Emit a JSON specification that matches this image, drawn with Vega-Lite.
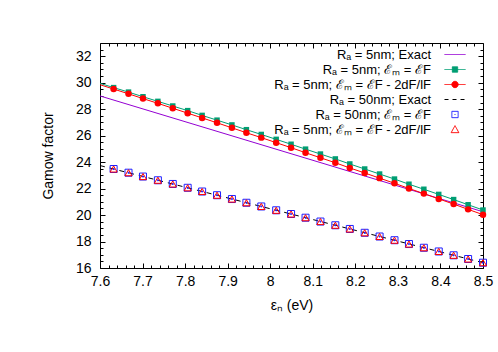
{
  "$schema": "https://vega.github.io/schema/vega-lite/v6.json",
  "width": 383,
  "height": 225,
  "autosize": {"type": "none"},
  "padding": {"left": 100, "top": 43, "right": 15, "bottom": 84},
  "background": "#ffffff",
  "config": {
    "view": {"stroke": "#000000", "strokeWidth": 1},
    "font": "Liberation Sans",
    "axis": {
      "domain": false, "grid": false, "tickColor": "#000000", "tickWidth": 1,
      "labelColor": "#000000", "titleColor": "#000000",
      "labelFont": "Liberation Sans", "titleFont": "Liberation Sans",
      "labelFontSize": 14, "titleFontSize": 14, "titleFontWeight": "normal"
    }
  },
  "datasets": {
    "curves": [
      {"x": 7.6, "y": 29.0, "s": "a"}, {"x": 8.5, "y": 20.25, "s": "a"},
      {"x": 7.6, "y": 29.95, "s": "b"},
      {"x": 7.632, "y": 29.63, "s": "b"}, {"x": 7.667, "y": 29.29, "s": "b"}, {"x": 7.701, "y": 28.94, "s": "b"}, {"x": 7.736, "y": 28.59, "s": "b"},
      {"x": 7.771, "y": 28.24, "s": "b"}, {"x": 7.806, "y": 27.89, "s": "b"}, {"x": 7.840, "y": 27.53, "s": "b"}, {"x": 7.875, "y": 27.17, "s": "b"},
      {"x": 7.910, "y": 26.81, "s": "b"}, {"x": 7.944, "y": 26.45, "s": "b"}, {"x": 7.979, "y": 26.09, "s": "b"}, {"x": 8.014, "y": 25.72, "s": "b"},
      {"x": 8.049, "y": 25.35, "s": "b"}, {"x": 8.083, "y": 24.98, "s": "b"}, {"x": 8.118, "y": 24.61, "s": "b"}, {"x": 8.153, "y": 24.24, "s": "b"},
      {"x": 8.187, "y": 23.86, "s": "b"}, {"x": 8.222, "y": 23.48, "s": "b"}, {"x": 8.257, "y": 23.10, "s": "b"}, {"x": 8.292, "y": 22.72, "s": "b"},
      {"x": 8.326, "y": 22.33, "s": "b"}, {"x": 8.361, "y": 21.95, "s": "b"}, {"x": 8.396, "y": 21.56, "s": "b"}, {"x": 8.431, "y": 21.17, "s": "b"},
      {"x": 8.465, "y": 20.78, "s": "b"}, {"x": 8.5, "y": 20.38, "s": "b"},
      {"x": 7.6, "y": 29.85, "s": "c"},
      {"x": 7.632, "y": 29.52, "s": "c"}, {"x": 7.667, "y": 29.16, "s": "c"}, {"x": 7.701, "y": 28.80, "s": "c"}, {"x": 7.736, "y": 28.44, "s": "c"},
      {"x": 7.771, "y": 28.07, "s": "c"}, {"x": 7.806, "y": 27.70, "s": "c"}, {"x": 7.840, "y": 27.34, "s": "c"}, {"x": 7.875, "y": 26.97, "s": "c"},
      {"x": 7.910, "y": 26.59, "s": "c"}, {"x": 7.944, "y": 26.22, "s": "c"}, {"x": 7.979, "y": 25.85, "s": "c"}, {"x": 8.014, "y": 25.47, "s": "c"},
      {"x": 8.049, "y": 25.09, "s": "c"}, {"x": 8.083, "y": 24.71, "s": "c"}, {"x": 8.118, "y": 24.33, "s": "c"}, {"x": 8.153, "y": 23.95, "s": "c"},
      {"x": 8.187, "y": 23.56, "s": "c"}, {"x": 8.222, "y": 23.18, "s": "c"}, {"x": 8.257, "y": 22.79, "s": "c"}, {"x": 8.292, "y": 22.40, "s": "c"},
      {"x": 8.326, "y": 22.01, "s": "c"}, {"x": 8.361, "y": 21.62, "s": "c"}, {"x": 8.396, "y": 21.22, "s": "c"}, {"x": 8.431, "y": 20.83, "s": "c"},
      {"x": 8.465, "y": 20.43, "s": "c"}, {"x": 8.5, "y": 20.03, "s": "c"},
      {"x": 7.6, "y": 23.74, "s": "d"}, {"x": 8.5, "y": 16.40, "s": "d"}
    ],
    "markers": [
      {"x": 7.632, "y": 23.48, "s": "e"}, {"x": 7.667, "y": 23.20, "s": "e"}, {"x": 7.701, "y": 22.91, "s": "e"}, {"x": 7.736, "y": 22.63, "s": "e"},
      {"x": 7.771, "y": 22.35, "s": "e"}, {"x": 7.806, "y": 22.06, "s": "e"}, {"x": 7.840, "y": 21.78, "s": "e"}, {"x": 7.875, "y": 21.50, "s": "e"},
      {"x": 7.910, "y": 21.21, "s": "e"}, {"x": 7.944, "y": 20.93, "s": "e"}, {"x": 7.979, "y": 20.65, "s": "e"}, {"x": 8.014, "y": 20.36, "s": "e"},
      {"x": 8.049, "y": 20.08, "s": "e"}, {"x": 8.083, "y": 19.80, "s": "e"}, {"x": 8.118, "y": 19.51, "s": "e"}, {"x": 8.153, "y": 19.23, "s": "e"},
      {"x": 8.187, "y": 18.95, "s": "e"}, {"x": 8.222, "y": 18.66, "s": "e"}, {"x": 8.257, "y": 18.38, "s": "e"}, {"x": 8.292, "y": 18.10, "s": "e"},
      {"x": 8.326, "y": 17.81, "s": "e"}, {"x": 8.361, "y": 17.53, "s": "e"}, {"x": 8.396, "y": 17.25, "s": "e"}, {"x": 8.431, "y": 16.96, "s": "e"},
      {"x": 8.465, "y": 16.68, "s": "e"}, {"x": 8.5, "y": 16.40, "s": "e"},
      {"x": 7.632, "y": 23.48, "s": "f"}, {"x": 7.667, "y": 23.20, "s": "f"}, {"x": 7.701, "y": 22.91, "s": "f"}, {"x": 7.736, "y": 22.63, "s": "f"},
      {"x": 7.771, "y": 22.35, "s": "f"}, {"x": 7.806, "y": 22.06, "s": "f"}, {"x": 7.840, "y": 21.78, "s": "f"}, {"x": 7.875, "y": 21.50, "s": "f"},
      {"x": 7.910, "y": 21.21, "s": "f"}, {"x": 7.944, "y": 20.93, "s": "f"}, {"x": 7.979, "y": 20.65, "s": "f"}, {"x": 8.014, "y": 20.36, "s": "f"},
      {"x": 8.049, "y": 20.08, "s": "f"}, {"x": 8.083, "y": 19.80, "s": "f"}, {"x": 8.118, "y": 19.51, "s": "f"}, {"x": 8.153, "y": 19.23, "s": "f"},
      {"x": 8.187, "y": 18.95, "s": "f"}, {"x": 8.222, "y": 18.66, "s": "f"}, {"x": 8.257, "y": 18.38, "s": "f"}, {"x": 8.292, "y": 18.10, "s": "f"},
      {"x": 8.326, "y": 17.81, "s": "f"}, {"x": 8.361, "y": 17.53, "s": "f"}, {"x": 8.396, "y": 17.25, "s": "f"}, {"x": 8.431, "y": 16.96, "s": "f"},
      {"x": 8.465, "y": 16.68, "s": "f"}, {"x": 8.5, "y": 16.40, "s": "f"}
    ]
  },
  "resolve": {"axis": {"x": "independent", "y": "independent"}},
  "layer": [
    {
      "data": {"name": "curves"},
      "transform": [{"filter": "datum.s == 'a'"}],
      "mark": {"type": "line", "strokeWidth": 1},
      "encoding": {
        "x": {"field": "x", "type": "quantitative", "scale": {"domain": [7.6, 8.5], "nice": false, "zero": false},
          "axis": {"orient": "bottom", "values": [7.6, 7.7, 7.8, 7.9, 8.0, 8.1, 8.2, 8.3, 8.4, 8.5], "format": "~g", "tickSize": -5, "labelPadding": 11, "labelFlush": false, "labelOverlap": false, "title": "εₙ (eV)", "titlePadding": 10}},
        "y": {"field": "y", "type": "quantitative", "scale": {"domain": [16, 33], "nice": false, "zero": false},
          "axis": {"orient": "left", "values": [16, 18, 20, 22, 24, 26, 28, 30, 32], "format": "d", "tickSize": -5, "labelPadding": 14, "labelFlush": false, "labelOverlap": false, "title": "Gamow factor", "titlePadding": 20}},
        "color": {"field": "s", "type": "nominal",
          "scale": {"domain": ["a", "b", "c", "d", "e", "f"], "range": ["#9400d3", "#009e73", "#ff0000", "#000000", "#2020ff", "#ff0000"]},
          "legend": {
            "title": null, "orient": "none", "legendX": 116, "legendY": 4, "padding": 0, "rowPadding": 0,
            "symbolSize": 196, "labelOffset": 200, "labelAlign": "right",
            "labelFontSize": 13, "labelFont": "Liberation Sans", "labelColor": "#000000", "labelLimit": 300,
            "labelExpr": "['Rₐ = 5nm; Exact', 'Rₐ = 5nm; ℰₘ = ℰF', 'Rₐ = 5nm; ℰₘ = ℰF - 2dF/lF', 'Rₐ = 50nm; Exact', 'Rₐ = 50nm; ℰₘ = ℰF', 'Rₐ = 5nm; ℰₘ = ℰF - 2dF/lF'][indexof(['a','b','c','d','e','f'], datum.value)]",
            "encode": {"symbols": {"update": {
              "x": {"value": 239},
              "shape": {"signal": "['M-1.5,0H1.5', 'M-1.5,0H1.5M-0.38,-0.38H0.38V0.38H-0.38Z', 'M-1.5,0H1.5M-0.45,0A0.45,0.45 0 1,0 0.45,0A0.45,0.45 0 1,0 -0.45,0Z', 'M-1.5,0H1.5', 'M-0.45,-0.45H0.45M0.45,-0.45V0.45M0.45,0.45H-0.45M-0.45,0.45V-0.45M-0.07,0H0.07', 'M0,-0.55L0.55,0.45M0.55,0.45H-0.55M-0.55,0.45L0,-0.55'][indexof(['a','b','c','d','e','f'], datum.value)]"},
              "fill": {"signal": "['transparent', '#009e73', '#ff0000', 'transparent', 'transparent', 'transparent'][indexof(['a','b','c','d','e','f'], datum.value)]"},
              "stroke": {"signal": "['#9400d3', '#009e73', '#ff0000', '#000000', '#2020ff', '#ff0000'][indexof(['a','b','c','d','e','f'], datum.value)]"},
              "strokeDash": {"signal": "datum.value == 'd' ? [4, 4] : [1, 0]"},
              "strokeWidth": {"value": 1},
              "opacity": {"value": 1}
            }}}
          }}
      }
    },
    {
      "data": {"name": "curves"},
      "transform": [{"filter": "datum.s == 'b'"}],
      "mark": {"type": "line", "strokeWidth": 1},
      "encoding": {
        "x": {"field": "x", "type": "quantitative", "scale": {"domain": [7.6, 8.5], "nice": false, "zero": false},
          "axis": {"orient": "top", "values": [7.6, 7.7, 7.8, 7.9, 8.0, 8.1, 8.2, 8.3, 8.4, 8.5], "labels": false, "tickSize": -5, "title": null}},
        "y": {"field": "y", "type": "quantitative", "scale": {"domain": [16, 33], "nice": false, "zero": false},
          "axis": {"orient": "right", "values": [16, 18, 20, 22, 24, 26, 28, 30, 32], "labels": false, "tickSize": -5, "title": null}},
        "color": {"field": "s", "type": "nominal"}
      }
    },
    {
      "data": {"name": "curves"},
      "transform": [{"filter": "datum.s == 'b' && datum.x > 7.61"}],
      "mark": {"type": "point", "shape": "square", "filled": true, "size": 30, "opacity": 1},
      "encoding": {
        "x": {"field": "x", "type": "quantitative", "scale": {"domain": [7.6, 8.5], "nice": false, "zero": false},
          "axis": {"orient": "bottom", "values": [7.62, 7.64, 7.66, 7.68, 7.72, 7.74, 7.76, 7.78, 7.82, 7.84, 7.86, 7.88, 7.92, 7.94, 7.96, 7.98, 8.02, 8.04, 8.06, 8.08, 8.12, 8.14, 8.16, 8.18, 8.22, 8.24, 8.26, 8.28, 8.32, 8.34, 8.36, 8.38, 8.42, 8.44, 8.46, 8.48], "labels": false, "tickSize": -3, "title": null}},
        "y": {"field": "y", "type": "quantitative", "scale": {"domain": [16, 33], "nice": false, "zero": false},
          "axis": {"orient": "left", "values": [16.5, 17, 17.5, 18.5, 19, 19.5, 20.5, 21, 21.5, 22.5, 23, 23.5, 24.5, 25, 25.5, 26.5, 27, 27.5, 28.5, 29, 29.5, 30.5, 31, 31.5, 32.5], "labels": false, "tickSize": -3, "title": null}},
        "color": {"field": "s", "type": "nominal"}
      }
    },
    {
      "data": {"name": "curves"},
      "transform": [{"filter": "datum.s == 'c'"}],
      "mark": {"type": "line", "strokeWidth": 1},
      "encoding": {
        "x": {"field": "x", "type": "quantitative", "scale": {"domain": [7.6, 8.5], "nice": false, "zero": false},
          "axis": {"orient": "top", "values": [7.62, 7.64, 7.66, 7.68, 7.72, 7.74, 7.76, 7.78, 7.82, 7.84, 7.86, 7.88, 7.92, 7.94, 7.96, 7.98, 8.02, 8.04, 8.06, 8.08, 8.12, 8.14, 8.16, 8.18, 8.22, 8.24, 8.26, 8.28, 8.32, 8.34, 8.36, 8.38, 8.42, 8.44, 8.46, 8.48], "labels": false, "tickSize": -3, "title": null}},
        "y": {"field": "y", "type": "quantitative", "scale": {"domain": [16, 33], "nice": false, "zero": false},
          "axis": {"orient": "right", "values": [16.5, 17, 17.5, 18.5, 19, 19.5, 20.5, 21, 21.5, 22.5, 23, 23.5, 24.5, 25, 25.5, 26.5, 27, 27.5, 28.5, 29, 29.5, 30.5, 31, 31.5, 32.5], "labels": false, "tickSize": -3, "title": null}},
        "color": {"field": "s", "type": "nominal"}
      }
    },
    {
      "data": {"name": "curves"},
      "transform": [{"filter": "datum.s == 'c' && datum.x > 7.61"}],
      "mark": {"type": "point", "shape": "circle", "filled": true, "size": 42, "opacity": 1},
      "encoding": {
        "x": {"field": "x", "type": "quantitative", "scale": {"domain": [7.6, 8.5], "nice": false, "zero": false}, "axis": null},
        "y": {"field": "y", "type": "quantitative", "scale": {"domain": [16, 33], "nice": false, "zero": false}, "axis": null},
        "color": {"field": "s", "type": "nominal"}
      }
    },
    {
      "data": {"name": "curves"},
      "transform": [{"filter": "datum.s == 'd'"}],
      "mark": {"type": "line", "strokeWidth": 1, "strokeDash": [5, 5]},
      "encoding": {
        "x": {"field": "x", "type": "quantitative", "scale": {"domain": [7.6, 8.5], "nice": false, "zero": false}, "axis": null},
        "y": {"field": "y", "type": "quantitative", "scale": {"domain": [16, 33], "nice": false, "zero": false}, "axis": null},
        "color": {"field": "s", "type": "nominal"}
      }
    },
    {
      "data": {"name": "markers"},
      "transform": [{"filter": "datum.s == 'e'"}],
      "mark": {"type": "point", "shape": "M-1,-1H1V1H-1ZM-0.15,-0.15H0.15V0.15H-0.15Z", "filled": false, "size": 49, "strokeWidth": 1, "opacity": 1},
      "encoding": {
        "x": {"field": "x", "type": "quantitative", "scale": {"domain": [7.6, 8.5], "nice": false, "zero": false}, "axis": null},
        "y": {"field": "y", "type": "quantitative", "scale": {"domain": [16, 33], "nice": false, "zero": false}, "axis": null},
        "color": {"field": "s", "type": "nominal"}
      }
    },
    {
      "data": {"name": "markers"},
      "transform": [{"filter": "datum.s == 'f'"}],
      "mark": {"type": "point", "shape": "triangle-up", "filled": false, "size": 50, "strokeWidth": 1, "opacity": 1},
      "encoding": {
        "x": {"field": "x", "type": "quantitative", "scale": {"domain": [7.6, 8.5], "nice": false, "zero": false}, "axis": null},
        "y": {"field": "y", "type": "quantitative", "scale": {"domain": [16, 33], "nice": false, "zero": false}, "axis": null},
        "color": {"field": "s", "type": "nominal"}
      }
    }
  ]
}
